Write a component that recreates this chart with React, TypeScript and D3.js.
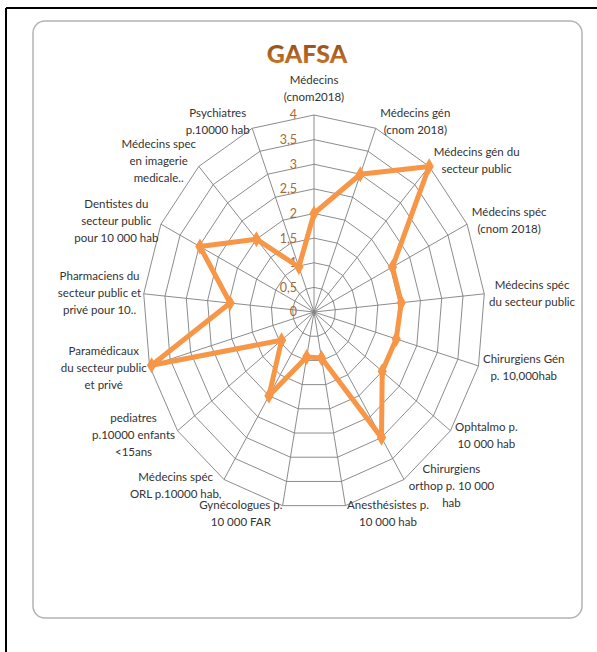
import React, { useEffect, useRef } from 'react';
import * as d3 from 'd3';

const title = 'GAFSA';

const categories: string[][] = [
  ['Médecins', '(cnom2018)'],
  ['Médecins gén', '(cnom 2018)'],
  ['Médecins gén du', 'secteur public'],
  ['Médecins spéc', '(cnom 2018)'],
  ['Médecins spéc', 'du secteur public'],
  ['Chirurgiens Gén', 'p. 10,000hab'],
  ['Ophtalmo p.', '10 000 hab'],
  ['Chirurgiens', 'orthop p. 10 000', 'hab'],
  ['Anesthésistes p.', '10 000 hab'],
  ['Gynécologues p.', '10 000 FAR'],
  ['Médecins spéc', 'ORL p.10000 hab,'],
  ['pediatres', 'p.10000 enfants', '<15ans'],
  ['Paramédicaux', 'du secteur public', 'et privé'],
  ['Pharmaciens du', 'secteur public et', 'privé pour 10..'],
  ['Dentistes du', 'secteur public', 'pour 10 000 hab'],
  ['Médecins spec', 'en imagerie', 'medicale..'],
  ['Psychiatres', 'p.10000 hab'],
];

const values = [2.0, 3.0, 4.0, 2.05, 2.05, 2.0, 2.0, 3.0, 0.95, 0.93, 2.0, 0.95, 3.95, 1.97, 2.98, 2.0, 0.98];

const ticks = [0, 0.5, 1, 1.5, 2, 2.5, 3, 3.5, 4];
const tickLabels = ['0', '0,5', '1', '1,5', '2', '2,5', '3', '3,5', '4'];

const W = 597;
const H = 652;
const cx = 314;
const cy = 312;
const FONT = 'Lato, "Open Sans", sans-serif';

export default function App() {
  const ref = useRef<SVGSVGElement>(null);

  useEffect(() => {
    const svg = d3.select(ref.current);
    svg.selectAll('*').remove();

    const n = categories.length;
    const angle = d3.scaleLinear().domain([0, n]).range([0, 2 * Math.PI]);
    // the plot area is a little squeezed horizontally, like the original
    const rx = d3.scaleLinear().domain([0, 4]).range([0, 171]);
    const ry = d3.scaleLinear().domain([0, 4]).range([0, 197]);
    const px = (i: number, v: number) => cx + rx(v) * Math.sin(angle(i));
    const py = (i: number, v: number) => cy - ry(v) * Math.cos(angle(i));

    svg.append('rect').attr('width', W).attr('height', H).attr('fill', '#fff');

    // page frame (top and left black edges)
    svg.append('line').attr('x1', 6).attr('x2', W).attr('y1', 8).attr('y2', 8)
      .attr('stroke', '#000').attr('stroke-width', 2);
    svg.append('line').attr('x1', 6).attr('x2', 6).attr('y1', 8).attr('y2', H)
      .attr('stroke', '#000').attr('stroke-width', 2);

    // chart area
    svg.append('rect').attr('x', 33).attr('y', 21).attr('width', 549).attr('height', 597)
      .attr('rx', 12).attr('fill', '#fff').attr('stroke', '#b3b3b3').attr('stroke-width', 1.5);

    const defs = svg.append('defs');
    const grad = defs.append('linearGradient').attr('id', 'tgrad')
      .attr('x1', 0).attr('y1', 0).attr('x2', 0).attr('y2', 1);
    grad.append('stop').attr('offset', '0%').attr('stop-color', '#864418');
    grad.append('stop').attr('offset', '100%').attr('stop-color', '#d27c2c');

    svg.append('text').attr('x', 307).attr('y', 63).attr('text-anchor', 'middle')
      .attr('font-family', FONT).attr('font-weight', 900).attr('font-size', 25)
      .attr('fill', 'url(#tgrad)').text(title);

    const idx = d3.range(n);
    const ring = d3.line<number>().curve(d3.curveLinearClosed);

    // rings
    svg.append('g').selectAll('path').data(ticks.filter(t => t > 0)).join('path')
      .attr('d', t => ring.x(i => px(i, t)).y(i => py(i, t))(idx))
      .attr('fill', 'none').attr('stroke', '#7f7f7f').attr('stroke-width', 0.9);

    // spokes
    svg.append('g').selectAll('line').data(idx).join('line')
      .attr('x1', cx).attr('y1', cy)
      .attr('x2', i => px(i, 4)).attr('y2', i => py(i, 4))
      .attr('stroke', '#7f7f7f').attr('stroke-width', 0.9);

    // tick labels
    svg.append('g').selectAll('text').data(ticks).join('text')
      .attr('x', cx - 17).attr('y', t => py(0, t))
      .attr('dy', '0.35em').attr('text-anchor', 'end')
      .attr('font-family', FONT).attr('font-size', 12.5).attr('fill', '#a86a34')
      .text((t, i) => tickLabels[i]);

    // series
    const series = d3.line<number>().curve(d3.curveLinearClosed)
      .x((v, i) => px(i, v)).y((v, i) => py(i, v));
    svg.append('path').attr('d', series(values))
      .attr('fill', 'none').attr('stroke', '#f79646').attr('stroke-width', 5)
      .attr('stroke-linejoin', 'round');
    svg.append('g').selectAll('path').data(values).join('path')
      .attr('transform', (v, i) => `translate(${px(i, v)},${py(i, v)})`)
      .attr('d', d3.symbol().type(d3.symbolDiamond).size(75)())
      .attr('fill', '#f79646');

    // category labels
    const lineH = 17;
    categories.forEach((lines, i) => {
      const a = angle(i);
      const s = Math.sin(a);
      const c = Math.cos(a);
      const vx = px(i, 4);
      const vy = py(i, 4);
      const g = svg.append('g');
      lines.forEach((l, k) => {
        g.append('text').attr('x', 0).attr('y', k * lineH)
          .attr('dy', '0.35em').attr('text-anchor', 'middle')
          .attr('font-family', FONT).attr('font-size', 11.5).attr('fill', '#333')
          .text(l);
      });
      const w = (g.node() as SVGGElement).getBBox().width;
      const h = (lines.length - 1) * lineH;
      let bx = vx;
      if (s > 0.1) bx = vx + (s > 0.3 ? 4.5 : 1.5) + w / 2;
      else if (s < -0.1) bx = vx - (s < -0.3 ? 2.5 : 0) - w / 2;
      let by;
      if (Math.abs(s) < 0.1) by = vy - 26.5;
      else by = vy - c * 7.5;
      g.attr('transform', `translate(${bx},${by - h / 2})`);
    });
  }, []);

  return (
    <svg ref={ref} width={W} height={H}
      style={{ position: 'absolute', left: 0, top: 0, display: 'block' }} />
  );
}
